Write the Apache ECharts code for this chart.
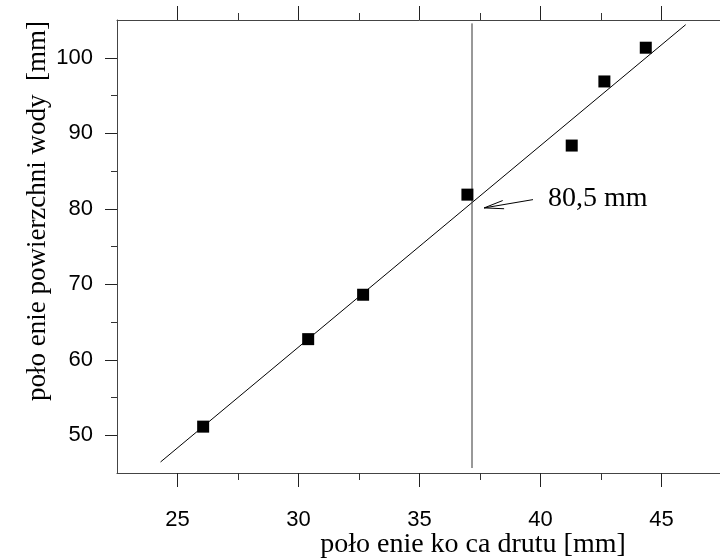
<!DOCTYPE html>
<html>
<head>
<meta charset="utf-8">
<script src="https://cdn.jsdelivr.net/npm/echarts@6/dist/echarts.min.js"></script>
<style>html,body{margin:0;padding:0;background:#fff;overflow:hidden;width:720px;height:559px;}#c{width:740px;height:559px;}</style>
</head>
<body>
<div id="c"></div>
<script>
// ---- data ----
const xValues = [26.06, 30.40, 32.67, 36.98, 41.29, 42.64, 44.35];
const yValues = [51.14, 62.73, 68.61, 81.87, 88.37, 96.86, 101.33];
const fitX = [24.30, 46.00];
const fitY = [46.46, 104.38];
const markerX = 37.17;
const markerYRange = [45.66, 104.55];
const arrowTip = [37.67, 80.11];
const arrowTail = [39.69, 81.21];
const labelPos = [40.31, 81.34];
const labelText = '80,5 mm';
const xMajorTicks = [25, 30, 35, 40, 45];
const xMinorTicks = [27.5, 32.5, 37.5, 42.5];
const yMajorTicks = [50, 60, 70, 80, 90, 100];
const yMinorTicks = [55, 65, 75, 85, 95];
const xTitle = 'poło enie ko ca drutu [mm]';
const yTitle = 'poło enie powierzchni wody  [mm]';

const AX = '#444';
const gridRect = {left: 117, top: 20, right: 18, bottom: 86};
const xRange = {min: 22.5, max: 47.5};
const yRange = {min: 45, max: 105};

const chart = echarts.init(document.getElementById('c'));
const option = {
  animation: false,
  backgroundColor: '#fff',
  grid: [Object.assign({}, gridRect), Object.assign({}, gridRect)],
  xAxis: [
    {gridIndex: 0, type: 'value', position: 'bottom', min: xRange.min, max: xRange.max,
     axisLine: {show: true, onZero: false, lineStyle: {color: AX, width: 1}},
     axisTick: {show: true, customValues: xMajorTicks, length: 14, lineStyle: {color: '#222'}},
     axisLabel: {show: true, customValues: xMajorTicks, margin: 36, color: '#000', fontSize: 22, fontFamily: 'Liberation Sans'},
     splitLine: {show: false}},
    {gridIndex: 0, type: 'value', position: 'top', min: xRange.min, max: xRange.max,
     axisLine: {show: true, onZero: false, lineStyle: {color: AX, width: 1}},
     axisTick: {show: true, customValues: xMajorTicks, length: 14, lineStyle: {color: '#222'}},
     axisLabel: {show: false}, splitLine: {show: false}},
    {gridIndex: 1, type: 'value', position: 'bottom', min: xRange.min, max: xRange.max,
     axisLine: {show: false, onZero: false},
     axisTick: {show: true, customValues: xMinorTicks, length: 7, lineStyle: {color: '#333'}},
     axisLabel: {show: false}, splitLine: {show: false}},
    {gridIndex: 1, type: 'value', position: 'top', min: xRange.min, max: xRange.max,
     axisLine: {show: false, onZero: false},
     axisTick: {show: true, customValues: xMinorTicks, length: 7, lineStyle: {color: '#333'}},
     axisLabel: {show: false}, splitLine: {show: false}}
  ],
  yAxis: [
    {gridIndex: 0, type: 'value', position: 'left', min: yRange.min, max: yRange.max, interval: 5,
     axisLine: {show: true, onZero: false, lineStyle: {color: AX, width: 1}},
     axisTick: {show: true, customValues: yMajorTicks, length: 12, lineStyle: {color: '#222'}},
     axisLabel: {show: true, customValues: yMajorTicks, margin: 24, color: '#000', fontSize: 22, fontFamily: 'Liberation Sans'},
     splitLine: {show: false}},
    {gridIndex: 1, type: 'value', position: 'left', min: yRange.min, max: yRange.max, interval: 5,
     axisLine: {show: false, onZero: false},
     axisTick: {show: true, customValues: yMinorTicks, length: 6, lineStyle: {color: '#333'}},
     axisLabel: {show: false}, splitLine: {show: false}}
  ],
  series: [
    {type: 'line', xAxisIndex: 0, yAxisIndex: 0, data: fitX.map((x, i) => [x, fitY[i]]),
     symbol: 'none', lineStyle: {color: '#000', width: 1}, silent: true, z: 2},
    {type: 'line', xAxisIndex: 0, yAxisIndex: 0, data: markerYRange.map(y => [markerX, y]),
     symbol: 'none', lineStyle: {color: '#333', width: 1}, silent: true, z: 2},
    {type: 'scatter', xAxisIndex: 0, yAxisIndex: 0, data: xValues.map((x, i) => [x, yValues[i]]),
     symbol: 'rect', symbolSize: 12, itemStyle: {color: '#000', opacity: 1}, z: 3},
    {type: 'custom', xAxisIndex: 0, yAxisIndex: 0,
     data: [[arrowTip[0], arrowTip[1], arrowTail[0], arrowTail[1], labelPos[0], labelPos[1]]],
     encode: {x: [0, 2, 4], y: [1, 3, 5]},
     renderItem: function (params, api) {
       const tip = api.coord([api.value(0), api.value(1)]);
       const tail = api.coord([api.value(2), api.value(3)]);
       const lp = api.coord([api.value(4), api.value(5)]);
       const dx = tail[0] - tip[0], dy = tail[1] - tip[1];
       const len = Math.sqrt(dx * dx + dy * dy);
       const ux = dx / len, uy = dy / len;
       const L = 20, th = 12 * Math.PI / 180;
       const b1 = [tip[0] + L * (ux * Math.cos(th) - uy * Math.sin(th)), tip[1] + L * (ux * Math.sin(th) + uy * Math.cos(th))];
       const b2 = [tip[0] + L * (ux * Math.cos(-th) - uy * Math.sin(-th)), tip[1] + L * (ux * Math.sin(-th) + uy * Math.cos(-th))];
       return {type: 'group', children: [
         {type: 'line', shape: {x1: tail[0], y1: tail[1], x2: tip[0], y2: tip[1]}, style: {stroke: '#000', lineWidth: 1}},
         {type: 'polyline', shape: {points: [b1, tip, b2]}, style: {stroke: '#000', lineWidth: 1, fill: null}},
         {type: 'text', style: {text: labelText, x: lp[0], y: lp[1], font: '28px "Liberation Serif"', fill: '#000',
           textAlign: 'left', textVerticalAlign: 'middle', align: 'left', verticalAlign: 'middle'}}
       ]};
     }, z: 4}
  ],
  graphic: [
    {type: 'rect', z: 100, silent: true, shape: {x: 710, y: 22, width: 30, height: 449}, style: {fill: '#fff'}},
    {type: 'text', x: 473, y: 545, style: {text: xTitle, font: '28px "Liberation Serif"', fill: '#000', textAlign: 'center', textVerticalAlign: 'middle', align: 'center', verticalAlign: 'middle'}},
    {type: 'text', x: 38, y: 211, rotation: Math.PI / 2, style: {text: yTitle, font: '27px "Liberation Serif"', fill: '#000', textAlign: 'center', textVerticalAlign: 'middle', align: 'center', verticalAlign: 'middle'}}
  ]
};
chart.setOption(option);
</script>
</body>
</html>
